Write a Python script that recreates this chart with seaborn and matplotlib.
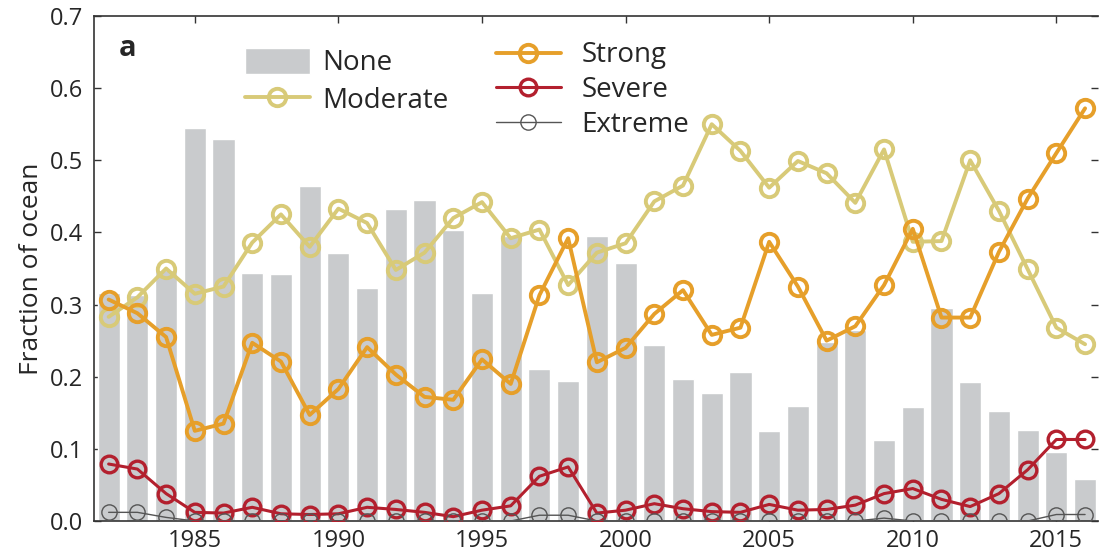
import matplotlib
matplotlib.use("Agg")
import matplotlib.pyplot as plt
import seaborn as sns
import numpy as np
import pandas as pd
from matplotlib.ticker import FormatStrFormatter, MultipleLocator

years = list(range(1982, 2017))
none_frac = [0.316, 0.313, 0.348, 0.545, 0.530, 0.344, 0.343, 0.465, 0.372, 0.323,
             0.432, 0.445, 0.404, 0.316, 0.395, 0.211, 0.194, 0.395, 0.357, 0.244,
             0.197, 0.178, 0.207, 0.125, 0.160, 0.248, 0.265, 0.112, 0.158, 0.295,
             0.193, 0.153, 0.126, 0.096, 0.058]
moderate = [0.283, 0.310, 0.350, 0.315, 0.325, 0.386, 0.425, 0.380, 0.433, 0.413,
            0.348, 0.372, 0.420, 0.442, 0.392, 0.404, 0.327, 0.372, 0.385, 0.443,
            0.465, 0.550, 0.513, 0.462, 0.499, 0.482, 0.441, 0.515, 0.387, 0.388,
            0.500, 0.430, 0.349, 0.268, 0.245]
strong = [0.307, 0.288, 0.255, 0.125, 0.135, 0.247, 0.221, 0.147, 0.183, 0.241,
          0.203, 0.172, 0.168, 0.224, 0.190, 0.313, 0.392, 0.220, 0.240, 0.287,
          0.320, 0.258, 0.268, 0.387, 0.325, 0.250, 0.270, 0.327, 0.405, 0.282,
          0.282, 0.373, 0.447, 0.510, 0.572]
severe = [0.079, 0.072, 0.038, 0.012, 0.011, 0.019, 0.010, 0.009, 0.010, 0.019,
          0.016, 0.012, 0.006, 0.015, 0.021, 0.062, 0.075, 0.011, 0.015, 0.024,
          0.017, 0.013, 0.012, 0.023, 0.015, 0.016, 0.022, 0.038, 0.045, 0.030,
          0.020, 0.038, 0.071, 0.113, 0.113]
extreme = [0.012, 0.012, 0.005, 0.0, 0.0, 0.0, 0.0, 0.0, 0.0, 0.0,
           0.0, 0.0, 0.0, 0.0, 0.0, 0.008, 0.008, 0.0, 0.0, 0.0,
           0.0, 0.0, 0.0, 0.0, 0.0, 0.0, 0.0, 0.004, 0.0, 0.0,
           0.0, 0.0, 0.0, 0.009, 0.009]

sns.set_theme(style="ticks")
plt.rcParams['font.family'] = ['Open Sans', 'DejaVu Sans']

df = pd.DataFrame({"year": years, "None": none_frac, "Moderate": moderate,
                   "Strong": strong, "Severe": severe, "Extreme": extreme})

fig = plt.figure(figsize=(10.99, 5.60), dpi=100)
ax = fig.add_axes([94/1099, 1 - 521/560, (1098 - 94)/1099, (521 - 16)/560])

sns.barplot(data=df, x="year", y="None", native_scale=True, width=0.77,
            color="#c9cbcd", saturation=1, label="None", ax=ax, zorder=1)

styles = {
    "Moderate": dict(color="#d8ca78", lw=2.8, ms=12.5, mew=2.8),
    "Strong": dict(color="#e69f2a", lw=2.8, ms=12.5, mew=2.8),
    "Severe": dict(color="#b3202e", lw=2.2, ms=12, mew=2.4),
    "Extreme": dict(color="#555555", lw=1.0, ms=11, mew=1.0),
}
for name, st in styles.items():
    sns.lineplot(data=df, x="year", y=name, ax=ax, color=st["color"], lw=st["lw"],
                 marker="o", markersize=st["ms"], markerfacecolor="none",
                 markeredgecolor=st["color"], markeredgewidth=st["mew"],
                 label=name, zorder=3)

h, l = ax.get_legend_handles_labels()
hd = dict(zip(l, h))
leg1 = ax.legend([hd["None"], hd["Moderate"]], ["None", "Moderate"],
                 loc="upper left", bbox_to_anchor=(0.150, 0.937), frameon=False,
                 fontsize=20, handlelength=2.35, handleheight=1.05,
                 handletextpad=0.45, labelspacing=0.3,
                 borderaxespad=0, borderpad=0)
ax.add_artist(leg1)
ax.legend([hd["Strong"], hd["Severe"], hd["Extreme"]], ["Strong", "Severe", "Extreme"],
          loc="upper left", bbox_to_anchor=(0.400, 0.950), frameon=False,
          fontsize=20, handlelength=2.35, handletextpad=0.75, labelspacing=0.25,
          borderaxespad=0, borderpad=0)

ax.set_xlim(1981.49, 2016.45)
ax.set_ylim(0, 0.7)
ax.yaxis.set_major_locator(MultipleLocator(0.1))
ax.yaxis.set_major_formatter(FormatStrFormatter("%.1f"))
ax.set_xticks([1985, 1990, 1995, 2000, 2005, 2010, 2015])
ax.set_xlabel("")
ax.set_ylabel("Fraction of ocean", fontsize=19, labelpad=4)
ax.tick_params(axis="both", direction="in", labelsize=17, length=5, width=1,
               color="#333333", top=True, right=True)
ax.tick_params(axis="y", pad=8)
ax.tick_params(axis="x", pad=6)
for s in ax.spines.values():
    s.set_color("#333333")
    s.set_linewidth(1.2)
ax.spines["right"].set_visible(False)

ax.text(0.025, 0.935, "a", transform=ax.transAxes, fontsize=21, fontweight="bold",
        va="center", ha="left")

fig.savefig("out.png", dpi=100)
